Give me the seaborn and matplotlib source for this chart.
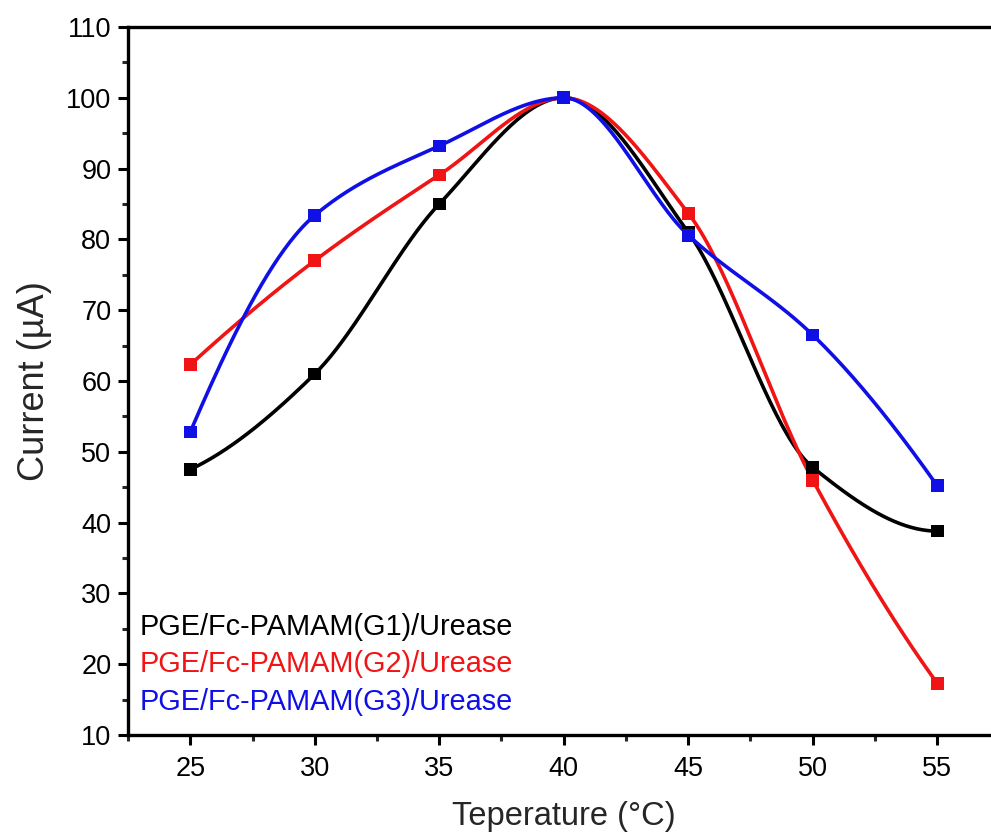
import numpy as np
import pandas as pd
import matplotlib
matplotlib.use("Agg")
import matplotlib.pyplot as plt
import seaborn as sns
from matplotlib.ticker import MultipleLocator

temperature = [25, 30, 35, 40, 45, 50, 55]
g1_current = [47.5, 61.0, 85.0, 100.0, 81.0, 47.8, 38.8]
g2_current = [62.3, 77.0, 89.1, 100.0, 83.7, 46.0, 17.3]
g3_current = [52.8, 83.4, 93.2, 100.0, 80.6, 66.5, 45.2]
series_names = ["PGE/Fc-PAMAM(G1)/Urease", "PGE/Fc-PAMAM(G2)/Urease", "PGE/Fc-PAMAM(G3)/Urease"]
series_colors = ["#000000", "#f01414", "#1010e6"]


def pchip_curve(x, y, n=400):
    """Smooth connecting line through the data points (monotone cubic Hermite)."""
    x = np.asarray(x, float)
    y = np.asarray(y, float)
    h = np.diff(x)
    d = np.diff(y) / h
    k = len(x)
    t = np.zeros(k)
    for i in range(1, k - 1):
        if d[i - 1] * d[i] > 0:
            w1 = 2 * h[i] + h[i - 1]
            w2 = h[i] + 2 * h[i - 1]
            t[i] = (w1 + w2) / (w1 / d[i - 1] + w2 / d[i])
        else:
            t[i] = 0.0

    def end(h0, h1, d0, d1):
        v = ((2 * h0 + h1) * d0 - h0 * d1) / (h0 + h1)
        if np.sign(v) != np.sign(d0):
            v = 0.0
        elif np.sign(d0) != np.sign(d1) and abs(v) > abs(3 * d0):
            v = 3 * d0
        return v

    t[0] = end(h[0], h[1], d[0], d[1])
    t[-1] = end(h[-1], h[-2], d[-1], d[-2])
    xs = np.linspace(x[0], x[-1], n)
    idx = np.clip(np.searchsorted(x, xs) - 1, 0, k - 2)
    hh = x[idx + 1] - x[idx]
    s = (xs - x[idx]) / hh
    h00 = 2 * s**3 - 3 * s**2 + 1
    h10 = s**3 - 2 * s**2 + s
    h01 = -2 * s**3 + 3 * s**2
    h11 = s**3 - s**2
    ys = h00 * y[idx] + h10 * hh * t[idx] + h01 * y[idx + 1] + h11 * hh * t[idx + 1]
    return xs, ys


sns.set_style("ticks")
plt.rcParams["font.family"] = ["Liberation Sans", "DejaVu Sans"]

fig = plt.figure(figsize=(9.91, 8.35), dpi=100)
ax = fig.add_axes([128 / 991, 1 - 735 / 835, (999.5 - 128) / 991, (735 - 27) / 835])

points = pd.DataFrame({
    "T": temperature * 3,
    "I": g1_current + g2_current + g3_current,
    "s": sum([[nm] * len(temperature) for nm in series_names], []),
})
curves = []
for nm, ys in zip(series_names, [g1_current, g2_current, g3_current]):
    xs, yy = pchip_curve(temperature, ys)
    curves.append(pd.DataFrame({"T": xs, "I": yy, "s": nm}))
curves = pd.concat(curves)
palette = dict(zip(series_names, series_colors))

sns.lineplot(data=curves, x="T", y="I", hue="s", palette=palette, linewidth=2.6,
             ax=ax, legend=False, sort=False, estimator=None)
sns.scatterplot(data=points, x="T", y="I", hue="s", palette=palette, marker="s",
                s=85, edgecolor="none", ax=ax, legend=False, zorder=5)

ax.set_xlim(22.5, 57.5)
ax.set_ylim(10, 110)
ax.xaxis.set_major_locator(MultipleLocator(5))
ax.xaxis.set_minor_locator(MultipleLocator(2.5))
ax.yaxis.set_major_locator(MultipleLocator(10))
ax.yaxis.set_minor_locator(MultipleLocator(5))
ax.tick_params(which="major", direction="out", length=7, width=2.2, labelsize=19.5, colors="black")
ax.tick_params(which="minor", direction="out", length=4, width=2.2)
ax.tick_params(axis="x", which="major", pad=8)
ax.tick_params(axis="y", which="major", pad=5)
ax.tick_params(top=False, right=False, which="both")
for sp in ax.spines.values():
    sp.set_linewidth(2.4)
    sp.set_color("black")

ax.set_xlabel("Teperature (°C)", fontsize=23.5, labelpad=14)
ax.set_ylabel("Current (µA)", fontsize=26, labelpad=10)

rows = [0.153, 0.100, 0.047]
for nm, c, yy in zip(series_names, series_colors, rows):
    ax.text(0.0138, yy, nm, color=c, fontsize=20.8, transform=ax.transAxes,
            va="center", ha="left")

fig.savefig("out.png", dpi=100)
